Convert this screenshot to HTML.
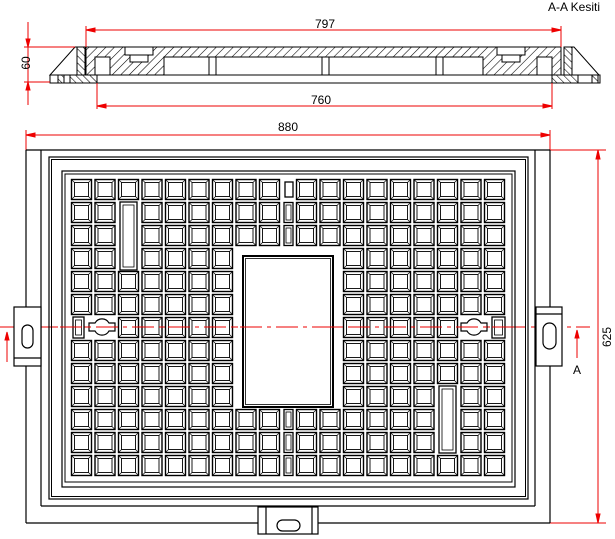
<!DOCTYPE html>
<html><head><meta charset="utf-8"><style>
html,body{margin:0;padding:0;background:#fff;}
svg{display:block;}
text{font-family:"Liberation Sans",sans-serif;}
</style></head><body>
<svg width="615" height="539" viewBox="0 0 615 539" xmlns="http://www.w3.org/2000/svg">
<defs>
<pattern id="h" width="6" height="6" patternUnits="userSpaceOnUse" patternTransform="rotate(45)">
<line x1="0" y1="0" x2="0" y2="6" stroke="#000" stroke-width="1.1"/>
</pattern>
<pattern id="h2" width="5" height="5" patternUnits="userSpaceOnUse" patternTransform="rotate(-45)">
<line x1="0" y1="0" x2="0" y2="5" stroke="#000" stroke-width="1.1"/>
</pattern>
<g id="cell">
<rect x="0.5" y="0.5" width="20" height="20" fill="#fff" stroke="#000" stroke-width="1.4"/>
<rect x="3.5" y="3.5" width="14" height="14" fill="none" stroke="#000" stroke-width="0.9"/>
<path d="M0.5 0.5L3.5 3.5M20.5 0.5L17.5 3.5M0.5 20.5L3.5 17.5M20.5 20.5L17.5 17.5" stroke="#000" stroke-width="0.7"/>
</g>
</defs>

<text x="600" y="11" font-size="12" text-anchor="end">A-A Kesiti</text>
<g stroke="#000" stroke-width="1" fill="#fff">
<polygon points="75,47 77,47 77,75 50,75" fill="#fff"/>
<rect x="77" y="47" width="8" height="28" fill="url(#h2)"/>
<rect x="50" y="75" width="47" height="8"/>
<rect x="58" y="75" width="6" height="8" fill="url(#h2)"/>
<rect x="70" y="75" width="27" height="8" fill="url(#h2)"/>
<polygon points="572,47 574,47 599,75 572,75" fill="#fff"/>
<rect x="564" y="47" width="8" height="28" fill="url(#h2)"/>
<rect x="552" y="75" width="48" height="8"/>
<rect x="552" y="75" width="26" height="8" fill="url(#h2)"/>
<rect x="592" y="75" width="6" height="8" fill="url(#h2)"/>
<rect x="86" y="47" width="475" height="28" fill="url(#h)"/>
<rect x="164" y="57" width="319" height="18" fill="#fff"/>
<rect x="95" y="57" width="15" height="18" fill="#fff"/>
<rect x="537" y="57" width="15" height="18" fill="#fff"/>
<rect x="125" y="47" width="28" height="8" fill="#fff"/>
<rect x="130" y="55" width="18" height="7" fill="#fff"/>
<rect x="497" y="47" width="28" height="8" fill="#fff"/>
<rect x="502" y="55" width="18" height="7" fill="#fff"/>
<rect x="209" y="57" width="7" height="18" fill="#fff"/>
<rect x="322" y="57" width="7" height="18" fill="#fff"/>
<rect x="436" y="57" width="7" height="18" fill="#fff"/>
<rect x="97" y="75" width="455" height="8" fill="#fff"/>
</g>
<g stroke="#e00" stroke-width="1" fill="#e00">
<line x1="86" y1="30" x2="561" y2="30"/>
<line x1="86" y1="26" x2="86" y2="47"/><line x1="561" y1="26" x2="561" y2="47"/>
<polygon points="86,30 95,28 95,32"/><polygon points="561,30 552,28 552,32"/>
<line x1="28" y1="22" x2="28" y2="105"/>
<line x1="24" y1="47" x2="75" y2="47"/><line x1="24" y1="82" x2="50" y2="82"/>
<polygon points="28,47 26,39 30,39"/><polygon points="28,82 26,90 30,90"/>
<line x1="97" y1="83" x2="97" y2="109"/><line x1="552" y1="83" x2="552" y2="109"/>
<line x1="97" y1="106" x2="552" y2="106"/>
<polygon points="97,106 106,104 106,108"/><polygon points="552,106 543,104 543,108"/>
<line x1="26" y1="135" x2="550" y2="135"/>
<line x1="26" y1="130" x2="26" y2="150"/><line x1="550" y1="130" x2="550" y2="150"/>
<polygon points="26,135 35,133 35,137"/><polygon points="550,135 541,133 541,137"/>
<line x1="550" y1="150" x2="606" y2="150"/><line x1="550" y1="523" x2="606" y2="523"/>
<line x1="598" y1="150" x2="598" y2="523"/>
<polygon points="598,150 596,159 600,159"/><polygon points="598,523 596,514 600,514"/>
<line x1="0" y1="327" x2="590" y2="327" stroke-dasharray="22,5,4,5"/>
<line x1="7" y1="362" x2="7" y2="336"/><polygon points="7,332 5,340 9,340"/>
<line x1="577" y1="358" x2="577" y2="334"/><polygon points="577,330 575,338 579,338"/>
</g>
<text x="325" y="28" font-size="12" text-anchor="middle">797</text>
<text x="321" y="104" font-size="12" text-anchor="middle">760</text>
<text x="288" y="131" font-size="12" text-anchor="middle">880</text>
<text x="0" y="0" font-size="12" text-anchor="middle" transform="translate(30,63) rotate(-90)">60</text>
<text x="0" y="0" font-size="12" text-anchor="middle" transform="translate(611,337) rotate(-90)">625</text>
<text x="577" y="374" font-size="12" text-anchor="middle">A</text>

<g stroke="#000" stroke-width="1.2" fill="none">
<line x1="26" y1="150" x2="550" y2="150"/>
<line x1="26" y1="150" x2="26" y2="307"/><line x1="26" y1="366" x2="26" y2="523"/>
<line x1="550" y1="150" x2="550" y2="307"/><line x1="550" y1="366" x2="550" y2="523"/>
<line x1="26" y1="523" x2="258" y2="523"/><line x1="318" y1="523" x2="550" y2="523"/>
<line x1="41" y1="150" x2="41" y2="506"/><line x1="535" y1="150" x2="535" y2="506"/>
<line x1="41" y1="506" x2="535" y2="506"/>
<rect x="49" y="157" width="479" height="342"/>
<rect x="51.5" y="159.5" width="474" height="337" stroke-width="1"/>
<rect x="62" y="171" width="453" height="316"/>
<rect x="65" y="174" width="447" height="308" stroke-width="1"/>
<rect x="14" y="307" width="27" height="59" fill="#fff"/>
<line x1="14" y1="358" x2="41" y2="358"/>
<rect x="22" y="325" width="11" height="23" rx="5.5" fill="#fff"/>
<rect x="536" y="307" width="26" height="59" fill="#fff"/>
<line x1="536" y1="314" x2="562" y2="314"/>
<rect x="543" y="323" width="13" height="26" rx="6.5" fill="#fff"/>
<rect x="258" y="507" width="60" height="27" fill="#fff"/>
<line x1="266" y1="507" x2="266" y2="534"/><line x1="312" y1="507" x2="312" y2="534"/>
<rect x="277" y="520" width="23" height="11" rx="5.5" fill="#fff"/>
</g>

<g id="grid"></g>
<script>
(function(){
var ns="http://www.w3.org/2000/svg",g=document.getElementById('grid');
var cols=[];for(var i=0;i<9;i++)cols.push(71+23.5*i);for(var i=0;i<9;i++)cols.push(296+23.5*i);
function use(x,y){var u=document.createElementNS(ns,'use');u.setAttribute('href','#cell');u.setAttribute('x',x);u.setAttribute('y',y);g.appendChild(u);}
function rect(x,y,w,h,sw){var r=document.createElementNS(ns,'rect');r.setAttribute('x',x);r.setAttribute('y',y);r.setAttribute('width',w);r.setAttribute('height',h);r.setAttribute('fill','#fff');r.setAttribute('stroke','#000');r.setAttribute('stroke-width',sw||1.3);g.appendChild(r);}
for(var j=0;j<13;j++){var y=179+23*j;
 for(var c=0;c<18;c++){
  if(c==2&&j>=1&&j<=3)continue;
  if(c==15&&j>=9&&j<=11)continue;
  if(j>=3&&j<=9&&c>=7&&c<=10)continue;
  if(j==6&&(c==0||c==1||c==16||c==17))continue;
  use(cols[c],y);
 }
 if(!(j>=3&&j<=9)){ if(j==0) rect(285,182,8,15); else {rect(284,y+0.5,9,20);rect(286,y+3,5,15,0.8);} }
}
rect(120,202,17,68);rect(123,205,11,62,0.8);
rect(439,386,17,67);rect(442,389,11,61,0.8);
rect(73,317,11,21);rect(75.5,320,6,15,0.8);
rect(492,317,13,21);rect(494.5,320,8,15,0.8);
rect(243,256,90,151,2);rect(245.5,258.5,85,146,0.8);
function lock(cx){var p=document.createElementNS(ns,'path');
 p.setAttribute('d','M'+(cx-13)+' 323h6a8 8 0 0 1 14 0h6v8h-6a8 8 0 0 1 -14 0h-6z');
 p.setAttribute('fill','#fff');p.setAttribute('stroke','#000');p.setAttribute('stroke-width','1.2');g.appendChild(p);}
lock(102);lock(474);
})();
</script>
<line x1="60" y1="327" x2="520" y2="327" stroke="#e00" stroke-width="1" stroke-dasharray="22,5,4,5"/>
</svg>
</body></html>
